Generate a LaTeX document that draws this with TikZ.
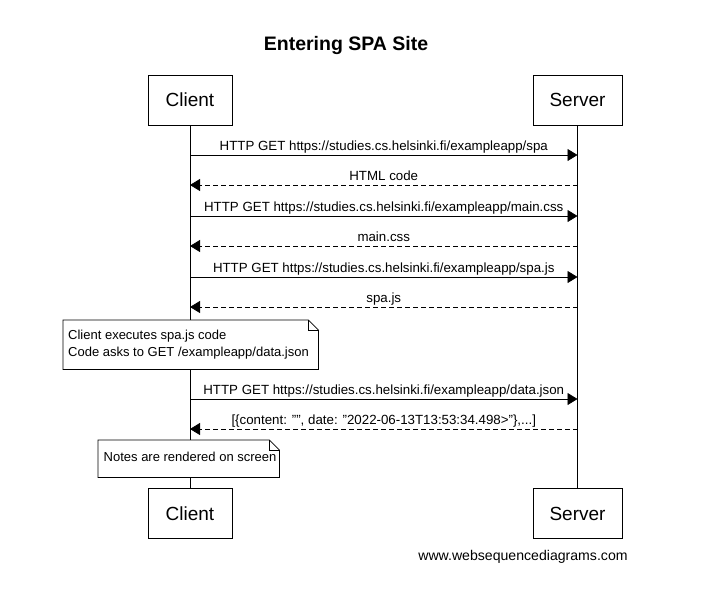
\documentclass[tikz,border=0pt]{standalone}
\usepackage{fontspec}
\setmainfont{Liberation Sans}
\usetikzlibrary{arrows.meta}
\begin{document}
\begin{tikzpicture}[x=1pt,y=-1pt,
  actor/.style={draw,line width=0.8pt,fill=white,minimum width=84pt,minimum height=50pt,inner sep=0pt,font=\fontsize{19}{22}\selectfont},
  lifeline/.style={line width=0.8pt},
  req/.style={line width=0.8pt,-{Triangle[length=10pt,width=12pt]}},
  resp/.style={line width=0.8pt,dash pattern=on 5pt off 3pt,-{Triangle[length=10pt,width=12pt]}},
  msg/.style={anchor=base,inner sep=0pt,font=\fontsize{13.3}{15}\selectfont},
  notebox/.style={fill=white,anchor=north west,inner sep=0pt},
  notetext/.style={anchor=west,inner sep=0pt,align=left,font=\fontsize{13}{17}\selectfont},
  noteline/.style={line width=0.8pt}
]
\useasboundingbox (0,0) rectangle (711,590);
\node[font=\bfseries\fontsize{19.5}{22}\selectfont] (title) at (346,45) {Entering SPA Site};
\node[actor] (ct) at (190,100) {Client};
\node[actor,minimum width=89pt] (st) at (577.5,100) {Server};
\node[actor] (cb) at (190,513.5) {Client};
\node[actor,minimum width=89pt] (sb) at (577.5,513.5) {Server};
\draw[lifeline] (ct.south) -- (cb.north);
\draw[lifeline] (st.south) -- (sb.north);
% messages
\foreach \i/\y in {1/155,2/185,3/216,4/246,5/277,6/307,7/399,8/429}{
  \coordinate (c\i) at (190,\y);
  \coordinate (s\i) at (577.5,\y);
}
\draw[req] (c1) -- (s1) node[msg,midway,yshift=4.5pt] (l1) {HTTP GET https://studies.cs.helsinki.fi/exampleapp/spa};
\draw[resp] (s2) -- (c2) node[msg,midway,yshift=4.5pt] (l2) {HTML code};
\draw[req] (c3) -- (s3) node[msg,midway,yshift=4.5pt] (l3) {HTTP GET https://studies.cs.helsinki.fi/exampleapp/main.css};
\draw[resp] (s4) -- (c4) node[msg,midway,yshift=4.5pt] (l4) {main.css};
\draw[req] (c5) -- (s5) node[msg,midway,yshift=4.5pt] (l5) {HTTP GET https://studies.cs.helsinki.fi/exampleapp/spa.js};
\draw[resp] (s6) -- (c6) node[msg,midway,yshift=4.5pt] (l6) {spa.js};
\draw[req] (c7) -- (s7) node[msg,midway,yshift=4.5pt] (l7) {HTTP GET https://studies.cs.helsinki.fi/exampleapp/data.json};
\draw[resp] (s8) -- (c8) node[msg,midway,yshift=4.5pt] (l8) {[\{content: "", date: "2022-06-13T13:53:34.498>"\},...]};
% notes
\node[notebox,minimum width=255pt,minimum height=49pt] (n1) at (63,320) {};
\draw[noteline] (n1.south west) -- (n1.north west) -- ([xshift=-10pt]n1.north east) -- ([yshift=-10pt]n1.north east) -- (n1.south east) -- cycle;
\draw[noteline] ([xshift=-10pt]n1.north east) -- ([xshift=-10pt,yshift=-10pt]n1.north east) -- ([yshift=-10pt]n1.north east);
\node[notetext] (t1) at ([xshift=5pt]n1.west) {Client executes spa.js code\\Code asks to GET /exampleapp/data.json};
\node[notebox,minimum width=181pt,minimum height=37pt] (n2) at (98,440) {};
\draw[noteline] (n2.south west) -- (n2.north west) -- ([xshift=-10pt]n2.north east) -- ([yshift=-10pt]n2.north east) -- (n2.south east) -- cycle;
\draw[noteline] ([xshift=-10pt]n2.north east) -- ([xshift=-10pt,yshift=-10pt]n2.north east) -- ([yshift=-10pt]n2.north east);
\node[notetext] (t2) at ([xshift=5.5pt,yshift=1.5pt]n2.west) {Notes are rendered on screen};
\node[font=\fontsize{14.1}{16}\selectfont] (footer) at (523,557) {www.websequencediagrams.com};
\end{tikzpicture}
\end{document}
